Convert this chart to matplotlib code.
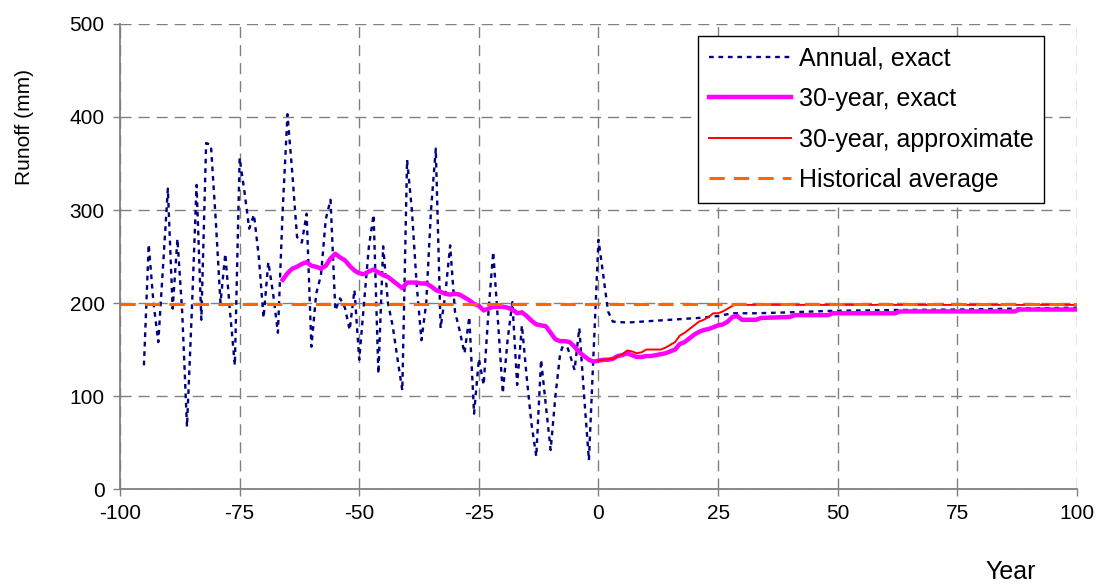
import matplotlib
matplotlib.use("Agg")
import matplotlib.pyplot as plt

plt.rcParams['font.family'] = ['Liberation Sans', 'DejaVu Sans']
plt.rcParams['axes.unicode_minus'] = False

# annual runoff, exact (historical part, one value per year)
annual_years = list(range(-95, 1))
annual_hist = [133, 263, 200, 158, 240, 323, 194, 269, 190, 67,
               190, 327, 182, 372, 370, 290, 200, 253, 190, 133,
               356, 320, 280, 295, 250, 184, 244, 210, 168, 300,
               403, 340, 271, 265, 296, 153, 210, 230, 290, 311,
               192, 205, 195, 171, 214, 139, 200, 260, 295, 124,
               261, 200, 175, 140, 106, 354, 300, 220, 160, 200,
               300, 366, 173, 210, 262, 191, 170, 146, 185, 81,
               140, 112, 190, 255, 180, 103, 160, 201, 112, 176,
               120, 70, 35, 139, 90, 42, 100, 146, 160, 145,
               128, 173, 100, 31, 150, 268]
# annual runoff, exact (projection part)
annual_proj_years = [1, 2, 3, 6, 9, 12, 15, 18, 21, 23, 25, 27, 28, 33, 40, 48, 62, 75, 87, 100]
annual_proj = [230, 191, 180, 179, 180, 181, 182, 183, 184, 185, 186, 188, 189, 189, 190, 191.5, 192.5, 193, 194, 195]

# 30-year average, exact
exact30_years = list(range(-66, 30)) + [30, 33, 34, 40, 41, 48, 49, 62, 63, 87, 88, 100]
exact30 = [225, 232, 237, 239, 242, 244, 240, 239, 237, 240,
           248, 253, 249, 246, 240, 235, 232, 231, 234, 236,
           233, 230, 228, 224, 220, 216, 222, 222, 222, 221,
           221, 218, 214, 212, 210, 209, 210, 209, 206, 203,
           199, 197, 192, 194, 196, 196, 196, 195, 193, 189,
           190, 186, 181, 177, 176, 175, 168, 161, 159, 159,
           158, 153, 147, 143, 139, 137, 138, 139, 139, 140,
           143, 144, 146, 144, 142, 142, 143, 143, 144, 145,
           146, 148, 150, 156, 158, 162, 166, 169, 171, 172,
           174, 176, 177, 180, 185, 186,
           182, 182, 184, 185, 187, 187, 189, 189, 191, 191, 193, 193]

# 30-year average, approximate
approx30_years = [0, 1, 3, 5, 6, 7, 8, 9, 10, 13, 14, 16, 17, 18, 19, 20,
                  21, 22, 23, 24, 25, 26, 27, 28, 29, 30, 100]
approx30 = [138, 139, 140, 145, 149, 148, 146, 147, 150, 150, 152, 158, 165, 168, 172, 176,
            180, 182, 185, 189, 189, 191, 194, 197, 199, 198, 198]

# historical average
hist_years = [-100, 100]
hist_avg = [199, 199]

fig = plt.figure(figsize=(11.04, 5.85), dpi=100)
ax = fig.add_axes([0.1087, 0.164, 0.8668, 0.795])

ax.plot(annual_years + annual_proj_years, annual_hist + annual_proj,
        color='#000080', lw=1.7, linestyle=(0, (2, 2)), label='Annual, exact')
ax.plot(exact30_years, exact30, color='#FF00FF', lw=3.2, label='30-year, exact')
ax.plot(approx30_years, approx30, color='#FF0000', lw=1.4, label='30-year, approximate')
ax.plot(hist_years, hist_avg, color='#FF6600', lw=2.2, linestyle=(0, (5, 3)),
        label='Historical average')

ax.set_xlim(-100, 100)
ax.set_ylim(0, 500)
ax.set_xticks(range(-100, 101, 25))
ax.set_yticks(range(0, 501, 100))
ax.tick_params(labelsize=15, color='#808080', length=5, width=1, pad=6)
ax.grid(True, color='#808080', linestyle=(0, (8, 5)), lw=1)
ax.set_axisbelow(True)
for s in ['top', 'right']:
    ax.spines[s].set_visible(False)
for s in ['left', 'bottom']:
    ax.spines[s].set_color('#808080')
    ax.spines[s].set_linewidth(1.3)

leg = ax.legend(loc='upper right', bbox_to_anchor=(0.9655, 0.974), borderaxespad=0,
                prop={'size': 18}, fancybox=False, framealpha=1, edgecolor='black',
                handlelength=3.3, handletextpad=0.3, labelspacing=0.66, borderpad=0.42)
leg.get_frame().set_linewidth(1)

fig.text(1011 / 1104, 1 - 572 / 585, 'Year', fontsize=18, ha='center', va='center')
fig.text(24 / 1104, 1 - 127 / 585, 'Runoff (mm)', fontsize=15, rotation=90,
         ha='center', va='center')

fig.savefig('out.png', dpi=100)
